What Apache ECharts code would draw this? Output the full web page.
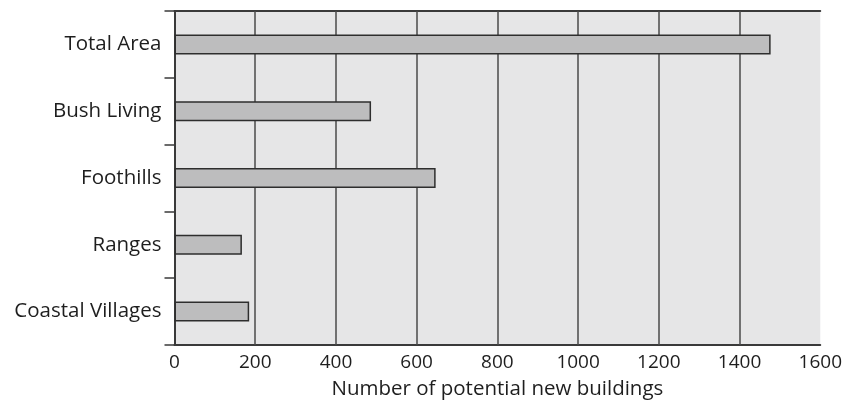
<!DOCTYPE html>
<html><head><meta charset="utf-8">
<script src="https://cdn.jsdelivr.net/npm/echarts@6/dist/echarts.min.js"></script>
<style>html,body{margin:0;padding:0;background:#fff}#c{width:845px;height:405px}</style>
</head><body><div id="c"></div>
<script>
const categories = ["Total Area", "Bush Living", "Foothills", "Ranges", "Coastal Villages"];
const values = [1477, 487, 647, 167, 185];
const xTicks = [0, 200, 400, 600, 800, 1000, 1200, 1400, 1600];
const gridValues = [200, 400, 600, 800, 1000, 1200, 1400];
const xTitle = "Number of potential new buildings";

const chart = echarts.init(document.getElementById('c'));
const font = "'Open Sans', sans-serif";
const txt = '#1e1e1e';
chart.setOption({
  animation: false,
  grid: { left: 174.5, right: 22, top: 11, bottom: 60, show: true, backgroundColor: '#e6e6e7', borderWidth: 0 },
  xAxis: [{
    type: 'value', min: xTicks[0], max: xTicks[xTicks.length - 1], interval: 200,
    position: 'bottom',
    axisLine: { show: true, lineStyle: { color: '#3a3a3a', width: 2 } },
    axisTick: { show: false },
    splitLine: { show: false },
    axisLabel: { color: txt, fontSize: 19, fontFamily: font, margin: 8, formatter: v => String(v) },
    name: xTitle, nameLocation: 'middle', nameGap: 34,
    nameTextStyle: { color: txt, fontSize: 20.5, fontFamily: font }
  }, {
    type: 'value', min: 0, max: 1600, position: 'top',
    axisLine: { show: true, lineStyle: { color: '#3a3a3a', width: 2 } },
    axisTick: { show: false }, axisLabel: { show: false }, splitLine: { show: false }
  }],
  yAxis: {
    type: 'category', data: categories, inverse: true,
    axisLine: { show: true, onZero: false, lineStyle: { color: '#3a3a3a', width: 2 } },
    axisTick: { show: true, length: 10, lineStyle: { color: '#3a3a3a', width: 1.5 } },
    axisLabel: { color: txt, fontSize: 20.5, fontFamily: font, margin: 13 }
  },
  series: [{
    type: 'bar', data: values, barWidth: 20, xAxisIndex: 0, z: 3,
    itemStyle: { color: '#bdbdbe', borderColor: '#2e2e2e', borderWidth: 1.5 },
    markLine: {
      silent: true, symbol: 'none', z: 1,
      label: { show: false },
      lineStyle: { color: '#4a4a4a', width: 1.5, type: 'solid' },
      data: gridValues.map(v => ({ xAxis: v }))
    }
  }]
});
</script></body></html>
